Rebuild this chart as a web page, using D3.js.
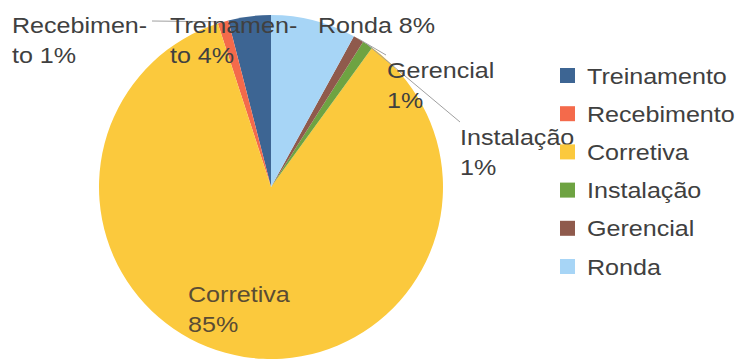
<!DOCTYPE html>
<html><head><meta charset="utf-8">
<script src="https://cdn.jsdelivr.net/npm/d3@7"></script>
<style>body{margin:0;background:#fff}svg{display:block}</style>
</head><body>
<svg id="c" width="740" height="361"></svg>
<script>
const categories = ["Treinamento","Recebimento","Corretiva","Instalação","Gerencial","Ronda"];
const values = [4,1,85,1,1,8];
const labelLines = [["Treinamen-","to 4%"],["Recebimen-","to 1%"],["Corretiva","85%"],["Instalação","1%"],["Gerencial","1%"],["Ronda 8%"]];
const colors = ["#3d6593","#f46a4b","#fbc93d","#6ea342","#8f5a4c","#a7d5f6"];

// layout (positions only)
const cx = 271, cy = 187, R = 172;
const labelPos = {
  "Treinamento":[170,33], "Recebimento":[12,33], "Corretiva":[188,302],
  "Instalação":[460,145], "Gerencial":[387,78], "Ronda":[318,33]
};
const leaderEnd = {"Recebimento":[152,21], "Gerencial":[386,55], "Instalação":[460,122]};
const FS = 22, SX = 1.14, LH = 30;

const svg = d3.select("#c");
const data = categories.map((c,i)=>({cat:c, value:values[i], color:colors[i], lines:labelLines[i]}));
const pie = d3.pie().value(d=>d.value).sort(null).startAngle(0).endAngle(-2*Math.PI);
const arcs = pie(data);
const arc = d3.arc().innerRadius(0).outerRadius(R);
const g = svg.append("g").attr("transform",`translate(${cx},${cy})`);
g.selectAll("path").data(arcs).join("path").attr("d",arc).attr("fill",d=>d.data.color);

// leader lines
const ptOn = (a,r)=>[cx + r*Math.sin(a), cy - r*Math.cos(a)];
arcs.forEach(a=>{
  const e = leaderEnd[a.data.cat]; if(!e) return;
  const mid = (a.startAngle+a.endAngle)/2;
  const s = ptOn(mid, R);
  svg.append("line").attr("x1",s[0]).attr("y1",s[1]).attr("x2",e[0]).attr("y2",e[1])
    .attr("stroke","#a0a0a0").attr("stroke-width",1);
});

function stext(x,y,t,fill){
  svg.append("text").attr("transform",`translate(${x},${y}) scale(${SX},1)`)
    .attr("font-family","Liberation Sans, Arial, sans-serif").attr("font-size",FS)
    .attr("fill",fill).text(t);
}
arcs.forEach(a=>{
  const p = labelPos[a.data.cat];
  const fill = a.data.cat==="Corretiva" ? "#5a4c34" : "#404040";
  a.data.lines.forEach((t,i)=>stext(p[0], p[1]+i*LH, t, fill));
});

// legend
const lx = 560, ly = 68, step = 38.2, sq = 15;
data.forEach((d,i)=>{
  svg.append("rect").attr("x",lx).attr("y",ly+i*step).attr("width",sq).attr("height",sq).attr("fill",d.color);
  stext(lx+27, ly+i*step+15.5, d.cat, "#404040");
});
</script>
</body></html>
